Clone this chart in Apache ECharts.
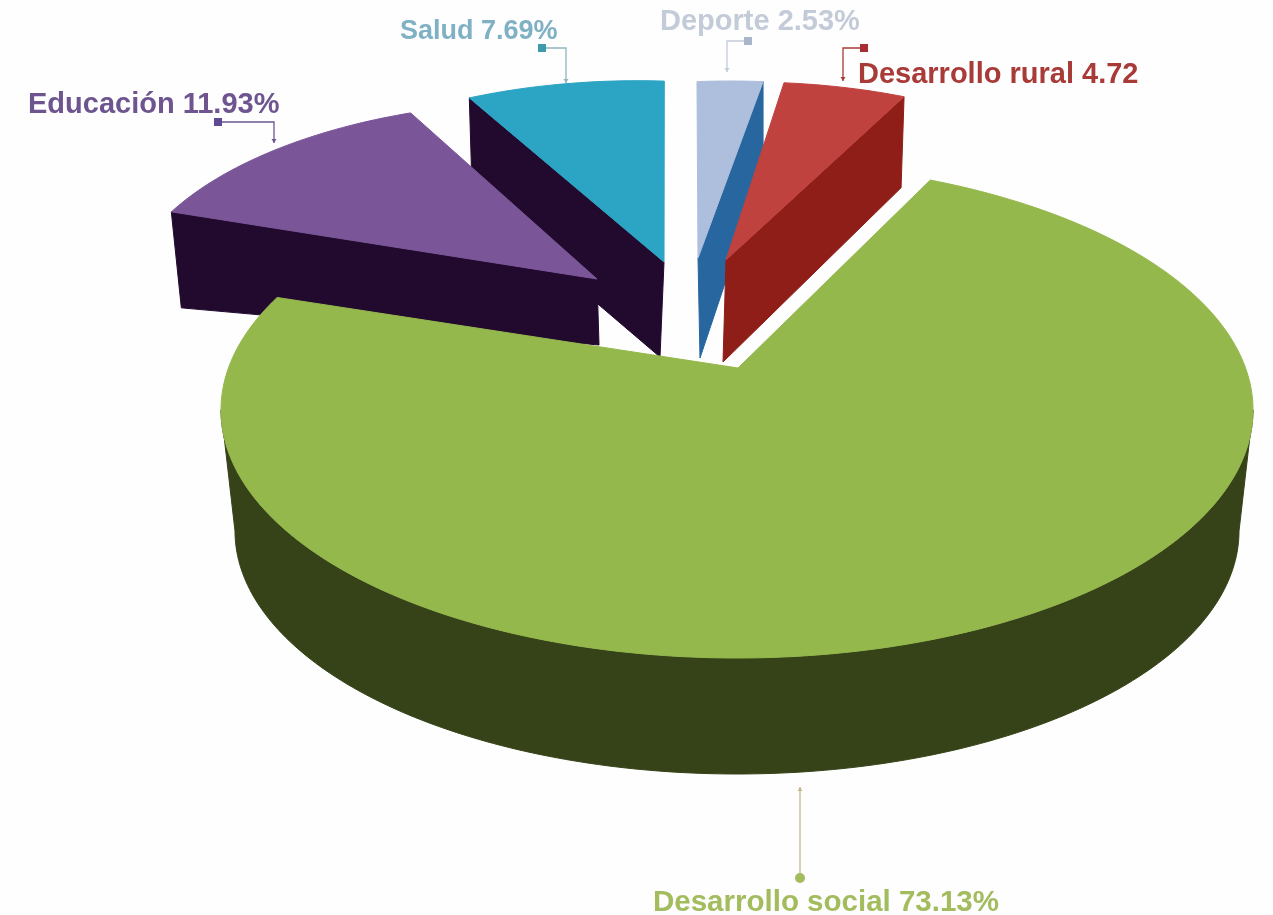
<!DOCTYPE html>
<html><head><meta charset="utf-8">
<style>html,body{margin:0;padding:0;background:#fefefe}#c{width:1273px;height:915px}</style>
<script src="https://cdn.jsdelivr.net/npm/echarts@6/dist/echarts.min.js"></script>
</head><body><div id="c"></div>
<script>
// Data (paint order: back slices first)
var categories = ['Deporte', 'Desarrollo rural', 'Salud', 'Educación', 'Desarrollo social'];
var values = [2.53, 4.72, 7.69, 11.93, 73.13];
var valueSuffix = ['%', '', '%', '%', '%'];

// Slice layout (the source is a distorted, exploded perspective pie)
var ellipseCenters = [[730, 281], [747, 283], [637.7, 279.7], [551, 309.5], [737, 410]];
var ellipseRadii = [[416, 200], [418, 201], [414, 199], [430, 208], [516, 248]];
var startAngles = [355.45, 5.08, 336, 298, 22];
var sweepScale = [1, 1, 1, 1, 1.0445];
var apexes = [[698, 258], [726, 260], [664, 262], [597, 279], [738, 368]];
var wallEdge = ['end', 'end', 'start', 'start', 'outer'];
var rimDrop = [[0, 88], [-3, 91], [3, 99], [10, 96], null];
var apexDrop = [[2, 100], [-3, 102], [-4, 95], [2, 66], null];
var outerBase = {cx: 737, cy: 531, rx: 502, ry: 243};
var topColors = ['#aebedd', '#c0423f', '#2ca4c3', '#7a5699', '#95b84d'];
var wallColors = ['#27669f', '#8f1e18', '#220a2e', '#220a2e', '#364318'];
var labelColors = ['#c3cbd9', '#a83a38', '#7fb0c4', '#6e5590', '#a3bc5e'];
var labelAnchors = [[660, 22], [858, 75], [400, 32], [28, 105], [653, 903]];
var labelSizes = [29, 29, 27, 29, 29.5];
var leaderPaths = [
  [[748, 41], [727, 41], [727, 72]],
  [[864, 48], [843, 48], [843, 81]],
  [[542, 48], [566, 48], [566, 83]],
  [[218, 122], [274, 122], [274, 143]],
  [[800, 878], [800, 787]]
];
var leaderColors = ['#c3cbd9', '#a83a38', '#8fb5c0', '#6e5590', '#c6b88a'];
var markerColors = ['#a9b6c9', '#a82e34', '#3f9aac', '#5d4a92', '#a3bc5e'];

function rimPoint(c, r, deg) {
  var a = deg * Math.PI / 180;
  return [c[0] + r[0] * Math.sin(a), c[1] - r[1] * Math.cos(a)];
}
function arc(c, r, from, to) {
  var pts = [], n = Math.max(2, Math.ceil(Math.abs(to - from)));
  for (var k = 0; k <= n; k++) pts.push(rimPoint(c, r, from + (to - from) * k / n));
  return pts;
}
function poly(points, fill, stroke) {
  return {type: 'polygon', shape: {points: points},
    style: {fill: fill, stroke: stroke || fill, lineWidth: 1, lineJoin: 'round'}};
}
function renderItem(params, api) {
  var i = params.dataIndex;
  var value = api.value(0);
  var c = ellipseCenters[i], r = ellipseRadii[i];
  var start = startAngles[i], end = start + value * 3.6 * sweepScale[i];
  var apex = apexes[i], kids = [];
  if (wallEdge[i] === 'outer') {
    var bottom = arc([outerBase.cx, outerBase.cy], [outerBase.rx, outerBase.ry], 90, 270);
    var upper = arc(c, r, 270, 90);
    kids.push(poly(bottom.concat(upper), wallColors[i]));
  } else {
    var p = rimPoint(c, r, wallEdge[i] === 'end' ? end : start);
    var d = rimDrop[i], e = apexDrop[i];
    kids.push(poly([p, apex, [apex[0] + e[0], apex[1] + e[1]], [p[0] + d[0], p[1] + d[1]]], wallColors[i]));
  }
  kids.push(poly([apex].concat(arc(c, r, start, end)), topColors[i]));
  return {type: 'group', children: kids};
}
function renderLabel(params, api) {
  var i = params.dataIndex;
  var path = leaderPaths[i], m = path[0], col = leaderColors[i], last = path[path.length - 1];
  var up = last[1] < path[path.length - 2][1];
  var kids = [
    {type: 'polyline', shape: {points: path}, style: {fill: 'none', stroke: col, lineWidth: 1.3}},
    {type: 'polygon', shape: {points: [[last[0] - 2.5, last[1] + (up ? 4 : -4)], [last[0] + 2.5, last[1] + (up ? 4 : -4)], [last[0], last[1]]]}, style: {fill: col}},
    i === 4
      ? {type: 'circle', shape: {cx: m[0], cy: m[1], r: 5}, style: {fill: markerColors[i]}}
      : {type: 'rect', shape: {x: m[0] - 4, y: m[1] - 4, width: 8, height: 8}, style: {fill: markerColors[i]}},
    {type: 'text', x: labelAnchors[i][0], y: labelAnchors[i][1],
      style: {text: categories[i] + ' ' + values[i] + valueSuffix[i],
        font: 'bold ' + labelSizes[i] + 'px "Liberation Sans", Arial, sans-serif', fill: labelColors[i],
        textAlign: 'left', textVerticalAlign: 'middle'}}
  ];
  return {type: 'group', children: kids};
}
var seriesData = categories.map(function (n, i) { return {name: n, value: values[i]}; });
var chart = echarts.init(document.getElementById('c'), null, {renderer: 'canvas'});
chart.setOption({
  animation: false,
  backgroundColor: '#fefefe',
  tooltip: {show: false},
  series: [
    {type: 'custom', coordinateSystem: 'none', renderItem: renderItem, data: seriesData, silent: true, z: 2},
    {type: 'custom', coordinateSystem: 'none', renderItem: renderLabel, data: seriesData, silent: true, z: 3}
  ]
});
</script></body></html>
